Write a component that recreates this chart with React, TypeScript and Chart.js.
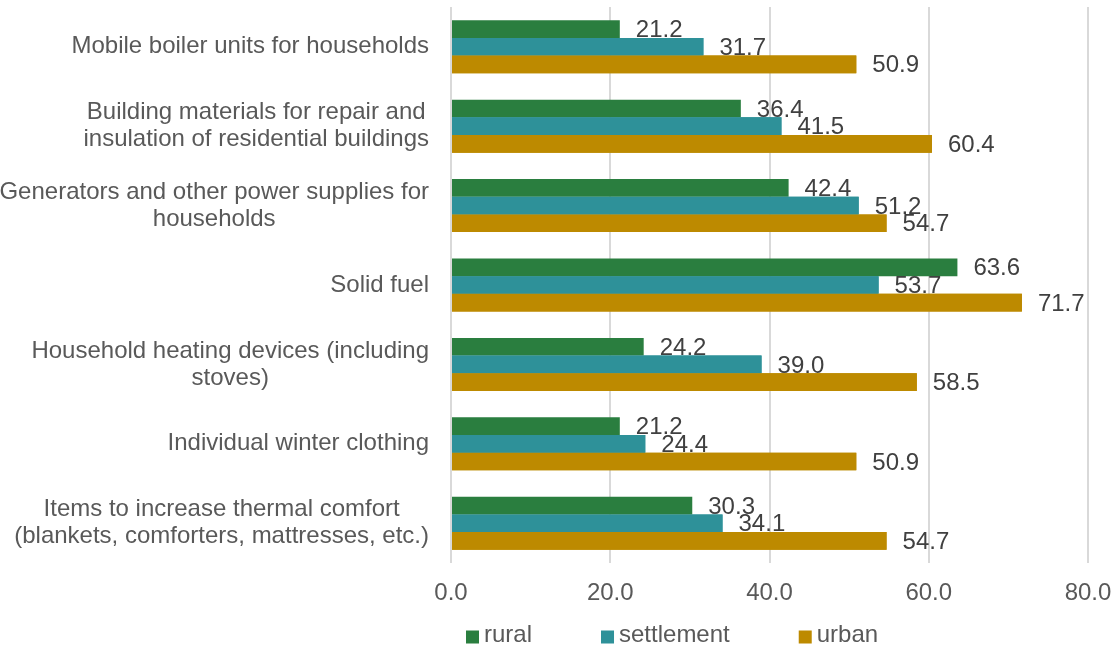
import { useEffect, useRef } from "react";
import { Chart, registerables } from "chart.js";

Chart.register(...registerables);

const categories: (string | string[])[] = [
  "Mobile boiler units for households",
  ["Building materials for repair and", "insulation of residential buildings"],
  ["Generators and other power supplies for", "households"],
  "Solid fuel",
  ["Household heating devices (including", "stoves)"],
  "Individual winter clothing",
  ["Items to increase thermal comfort", "(blankets, comforters, mattresses, etc.)"],
];
const rural = [21.2, 36.4, 42.4, 63.6, 24.2, 21.2, 30.3];
const settlement = [31.7, 41.5, 51.2, 53.7, 39.0, 24.4, 34.1];
const urban = [50.9, 60.4, 54.7, 71.7, 58.5, 50.9, 54.7];
const seriesNames = ["rural", "settlement", "urban"];
const seriesColors = ["#2A7E3F", "#2E9199", "#BD8A00"];
const xMin = 0;
const xMax = 80;
const xStep = 20;

const FONT_FAMILY = "'Liberation Sans', Arial, sans-serif";
const FONT = `24px ${FONT_FAMILY}`;
const TEXT_GREY = "#595959";
const LABEL_DARK = "#404040";

// Value labels sit to the right of each bar; each series' labels are drawn
// before the next series' bars so lower bars overlap them slightly.
const valueLabels = {
  id: "valueLabels",
  afterDatasetsDraw(chart: any) {
    const ctx = chart.ctx as CanvasRenderingContext2D;
    const n = chart.data.datasets.length;
    for (let d = 0; d < n; d++) {
      const meta = chart.getDatasetMeta(d);
      if (d > 0) meta.controller.draw();
      ctx.save();
      ctx.font = FONT;
      ctx.fillStyle = LABEL_DARK;
      ctx.textAlign = "left";
      ctx.textBaseline = "middle";
      meta.data.forEach((bar: any, i: number) => {
        const v = Number(chart.data.datasets[d].data[i]);
        ctx.fillText(v.toFixed(1), bar.x + 16, bar.y + 1.5);
      });
      ctx.restore();
    }
  },
};

// Category names: each block right-aligned to the axis, its lines centred.
const categoryLabels = {
  id: "categoryLabels",
  afterDraw(chart: any) {
    const ctx = chart.ctx as CanvasRenderingContext2D;
    const yScale = chart.scales.y;
    const right = chart.chartArea.left - 22;
    const lineH = 27;
    ctx.save();
    ctx.font = FONT;
    ctx.fillStyle = TEXT_GREY;
    ctx.textAlign = "center";
    ctx.textBaseline = "middle";
    (chart.data.labels as (string | string[])[]).forEach((label, i) => {
      const lines = Array.isArray(label) ? label : [label];
      const widest = Math.max(...lines.map((l) => ctx.measureText(l).width));
      const cx = right - widest / 2;
      const cy = yScale.getPixelForValue(i);
      lines.forEach((line, k) => {
        ctx.fillText(line, cx, cy + (k - (lines.length - 1) / 2) * lineH);
      });
    });
    ctx.restore();
  },
};

// Legend row under the axis.
const bottomLegend = {
  id: "bottomLegend",
  afterDraw(chart: any) {
    const ctx = chart.ctx as CanvasRenderingContext2D;
    const box = 13;
    const cy = 637;
    let x = 466;
    ctx.save();
    ctx.font = FONT;
    ctx.textAlign = "left";
    ctx.textBaseline = "middle";
    chart.data.datasets.forEach((ds: any) => {
      ctx.fillStyle = ds.backgroundColor;
      ctx.fillRect(x, cy - box / 2, box, box);
      ctx.fillStyle = TEXT_GREY;
      ctx.fillText(ds.label, x + box + 5, cy - 2);
      x += box + 5 + ctx.measureText(ds.label).width + 69;
    });
    ctx.restore();
  },
};

export default function App() {
  const canvasRef = useRef<HTMLCanvasElement | null>(null);

  useEffect(() => {
    if (!canvasRef.current) return;
    Chart.defaults.font.family = FONT_FAMILY;
    const series = [rural, settlement, urban];
    const chart = new Chart(canvasRef.current, {
      type: "bar",
      data: {
        labels: categories,
        datasets: series.map((values, i) => ({
          label: seriesNames[i],
          data: values,
          backgroundColor: seriesColors[i],
          borderWidth: 0,
          categoryPercentage: 0.667,
          barPercentage: 1.0,
        })),
      },
      options: {
        indexAxis: "y",
        animation: false,
        responsive: false,
        devicePixelRatio: 1,
        layout: { padding: { top: 7, right: 24, left: 0, bottom: 0 } },
        plugins: {
          legend: { display: false },
          tooltip: { enabled: false },
        },
        scales: {
          x: {
            type: "linear",
            min: xMin,
            max: xMax,
            ticks: {
              stepSize: xStep,
              padding: 16,
              color: TEXT_GREY,
              font: { size: 24, family: FONT_FAMILY },
              callback: (v: any) => Number(v).toFixed(1),
            },
            grid: { color: "#D9D9D9", lineWidth: 2, drawTicks: false },
            border: { display: false },
            afterFit: (s: any) => {
              s.height = 89;
              s.paddingLeft = 0;
              s.paddingRight = 0;
            },
          },
          y: {
            type: "category",
            grid: { display: false },
            border: { display: false },
            ticks: { display: false },
            afterFit: (s: any) => {
              s.width = 451;
              s.paddingTop = 0;
              s.paddingBottom = 0;
            },
          },
        },
      },
      plugins: [valueLabels, categoryLabels, bottomLegend],
    });
    return () => chart.destroy();
  }, []);

  return (
    <div style={{ position: "fixed", left: 0, top: 0, width: 1112, height: 652, background: "#fff" }}>
      <canvas ref={canvasRef} width={1112} height={652} />
    </div>
  );
}
